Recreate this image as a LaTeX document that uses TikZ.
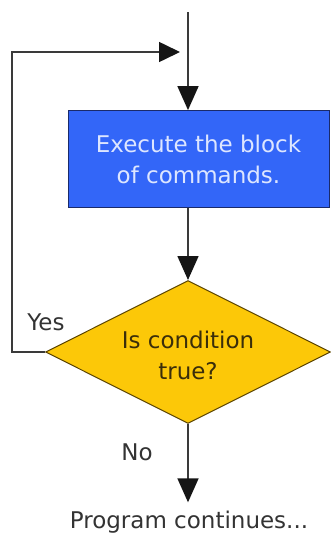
\documentclass[tikz,border=0pt]{standalone}
\usepackage{fontspec}
\setmainfont{DejaVu Sans}
\usetikzlibrary{shapes.geometric,arrows.meta}

\definecolor{linegray}{HTML}{3A3A3A}
\definecolor{tipblack}{HTML}{151515}
\definecolor{blockblue}{HTML}{3366F8}
\definecolor{blockedge}{HTML}{1A2A6A}
\definecolor{blocktext}{HTML}{DDE6FF}
\definecolor{decgold}{HTML}{FCC808}
\definecolor{decedge}{HTML}{5A4300}
\definecolor{dectext}{HTML}{3A2E0A}
\definecolor{labelgray}{HTML}{333333}

\tikzset{
  flow/.style={draw=linegray, line width=1.6pt,
    -{Triangle[width=21pt,length=24pt,color=tipblack]}},
  loopline/.style={draw=linegray, line width=1.6pt,
    -{Triangle[width=20pt,length=21pt,color=tipblack]}},
  blockbox/.style={rectangle, draw=blockedge, line width=0.8pt,
    fill=blockblue, text=blocktext, align=center,
    minimum width=261pt, minimum height=97pt, inner sep=0pt},
  decision/.style={diamond, aspect=2, draw=decedge, line width=1pt,
    fill=decgold, text=dectext, align=center,
    minimum width=285pt, minimum height=143pt, inner sep=0pt},
  flowlabel/.style={text=labelgray, inner sep=0pt, anchor=base},
}

\begin{document}
\begin{tikzpicture}[x=1pt, y=-1pt, font=\fontsize{23}{31}\selectfont]
  \useasboundingbox (0,0) rectangle (331,533);

  % entry point and process block
  \coordinate (entry) at (188,12);
  \node[blockbox] (block) at (198.5,159) {Execute the block\\of commands.};

  % decision (the strut lowers the two lines a little inside the diamond)
  \node[decision] (cond) at (188,352) {\rule{0pt}{25pt}Is condition\\true?};

  % exit text
  \node[flowlabel] (next) at (189,528) {Program continues...};

  % branch labels
  \node[flowlabel] (yes) at (46,330) {Yes};
  \node[flowlabel] (no) at (137,460) {No};

  % main flow
  \draw[flow] (entry) -- (block.north -| entry);
  \draw[flow] (block.south -| entry) -- (cond.north);
  \draw[flow, shorten >=8pt] (cond.south) -- (next.north -| cond.south);

  % loop back when the condition holds
  \coordinate (loopin) at (180,52);
  \draw[loopline] (cond.west) -- (12,352) -- (12,52) -- (loopin);
\end{tikzpicture}
\end{document}
